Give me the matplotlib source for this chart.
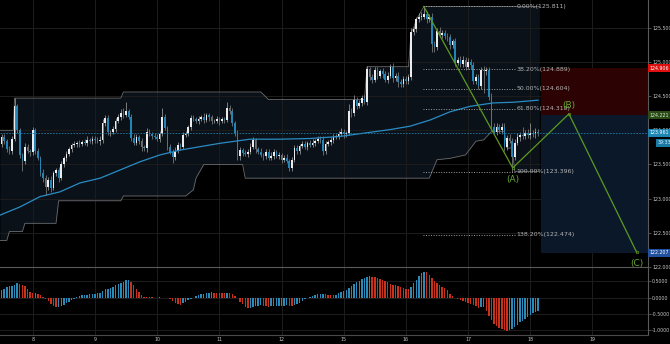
import matplotlib
matplotlib.use("Agg")
import matplotlib.pyplot as plt
import matplotlib.transforms as mtrans
from matplotlib.patches import Rectangle
import numpy as np

# ---------------- data ----------------
hours = list(range(-12, 196))          # hourly candles, 0 = day 8 00:00 (trading time)
first_open = 123.80
closes = [
    123.90, 123.85, 123.72, 123.70, 123.88, 124.35, 124.00, 123.64, 123.55, 123.76, 123.70, 123.68,
    124.00, 123.70, 123.60, 123.38, 123.30, 123.17, 123.28, 123.15, 123.37, 123.42, 123.30, 123.50,
    123.60, 123.66, 123.72, 123.78, 123.80, 123.82, 123.80, 123.83, 123.82, 123.86, 123.84, 123.88,
    123.86, 123.84, 123.86, 124.10, 124.18, 123.97, 123.98, 124.02, 124.13, 124.20, 124.25, 124.22,
    124.28, 124.20, 123.89, 123.82, 123.90, 123.85, 123.76, 123.74, 123.98, 123.95, 123.92, 123.90,
    123.88, 123.95, 124.20, 124.04, 123.76, 123.69, 123.61, 123.70, 123.79, 123.76, 123.93, 123.95,
    124.05, 124.18, 124.16, 124.14, 124.17, 124.20, 124.15, 124.22, 124.19, 124.13, 124.14, 124.16,
    124.13, 124.16, 124.15, 124.32, 124.28, 124.11, 123.96, 123.62, 123.71, 123.67, 123.66, 123.69,
    123.76, 123.86, 123.72, 123.69, 123.64, 123.62, 123.69, 123.60, 123.63, 123.68, 123.62, 123.64,
    123.57, 123.60, 123.55, 123.45, 123.57, 123.74, 123.70, 123.77, 123.80, 123.76, 123.82, 123.79,
    123.82, 123.85, 123.88, 123.86, 123.70, 123.80, 123.83, 123.86, 123.90, 123.92, 123.95, 123.98,
    123.94, 123.96, 124.28, 124.25, 124.45, 124.36, 124.40, 124.47, 124.42, 124.89, 124.78, 124.74,
    124.88, 124.80, 124.86, 124.82, 124.74, 124.80, 124.93, 124.76, 124.80, 124.71, 124.68, 124.75,
    124.72, 124.78, 125.43, 125.48, 125.62, 125.66, 125.66, 125.70, 125.62, 125.66, 125.26, 125.22,
    125.45, 125.40, 125.42, 125.38, 125.36, 125.25, 125.30, 124.99, 125.03, 124.97, 125.03, 124.93,
    125.00, 124.95, 124.72, 124.78, 124.65, 124.88, 124.86, 124.88, 124.49, 124.05, 123.98, 124.05,
    124.00, 124.05, 123.76, 123.89, 123.85, 123.61, 123.82, 123.90, 123.93, 123.92, 123.96, 123.93,
    123.96, 123.94, 123.98, 123.961,
]
upper_wick = [
    0.05, 0.04, 0.03, 0.05, 0.04, 0.12, 0.03, 0.04, 0.03, 0.05, 0.04, 0.03,
    0.05, 0.03, 0.04, 0.03, 0.05, 0.04, 0.03, 0.05, 0.04, 0.03, 0.04, 0.05, 0.03, 0.04, 0.03, 0.04, 0.05, 0.03, 0.04, 0.03, 0.04, 0.05, 0.03, 0.04,
    0.03, 0.04, 0.05, 0.06, 0.05, 0.04, 0.03, 0.04, 0.05, 0.04, 0.06, 0.08, 0.14, 0.03, 0.04, 0.05, 0.04, 0.03, 0.04, 0.03, 0.05, 0.04, 0.03, 0.04,
    0.05, 0.04, 0.13, 0.04, 0.03, 0.04, 0.03, 0.05, 0.04, 0.03, 0.05, 0.04, 0.03, 0.04, 0.05, 0.03, 0.04, 0.03, 0.05, 0.04, 0.03, 0.04, 0.03, 0.05,
    0.04, 0.03, 0.04, 0.10, 0.05, 0.04, 0.03, 0.04, 0.05, 0.03, 0.04, 0.03, 0.05, 0.04, 0.03, 0.04, 0.05, 0.03, 0.04, 0.03, 0.05, 0.04, 0.03, 0.04,
    0.03, 0.04, 0.05, 0.03, 0.04, 0.05, 0.04, 0.03, 0.05, 0.04, 0.03, 0.04, 0.05, 0.03, 0.04, 0.03, 0.05, 0.04, 0.03, 0.04, 0.05, 0.03, 0.04, 0.05,
    0.04, 0.03, 0.10, 0.05, 0.06, 0.04, 0.05, 0.04, 0.05, 0.05, 0.04, 0.05, 0.04, 0.05, 0.04, 0.05, 0.04, 0.05, 0.04, 0.05, 0.04, 0.05, 0.04, 0.05,
    0.04, 0.05, 0.06, 0.05, 0.04, 0.05, 0.07, 0.111, 0.05, 0.04, 0.05, 0.04, 0.05, 0.06, 0.04, 0.05, 0.04, 0.05, 0.04, 0.05, 0.04, 0.05, 0.06, 0.04,
    0.05, 0.04, 0.05, 0.04, 0.05, 0.04, 0.06, 0.05, 0.04, 0.05, 0.06, 0.05, 0.04, 0.06, 0.05, 0.04, 0.05, 0.04, 0.05, 0.06, 0.05, 0.12, 0.05, 0.06,
    0.14, 0.05, 0.06, 0.04,
]
lower_wick = [
    0.04, 0.05, 0.03, 0.04, 0.05, 0.03, 0.04, 0.05, 0.15, 0.04, 0.03, 0.05,
    0.04, 0.05, 0.03, 0.05, 0.06, 0.11, 0.04, 0.05, 0.03, 0.04, 0.05, 0.03, 0.04, 0.05, 0.03, 0.04, 0.03, 0.05, 0.04, 0.03, 0.04, 0.05, 0.03, 0.04,
    0.04, 0.03, 0.05, 0.04, 0.03, 0.04, 0.05, 0.03, 0.04, 0.03, 0.05, 0.04, 0.03, 0.04, 0.05, 0.04, 0.03, 0.05, 0.06, 0.04, 0.05, 0.03, 0.04, 0.03,
    0.04, 0.05, 0.03, 0.04, 0.05, 0.04, 0.09, 0.04, 0.03, 0.05, 0.04, 0.03, 0.04, 0.05, 0.03, 0.04, 0.05, 0.03, 0.04, 0.03, 0.05, 0.04, 0.03, 0.04,
    0.05, 0.03, 0.04, 0.03, 0.04, 0.05, 0.04, 0.06, 0.05, 0.04, 0.03, 0.05, 0.04, 0.03, 0.05, 0.04, 0.03, 0.05, 0.04, 0.03, 0.04, 0.05, 0.03, 0.04,
    0.05, 0.04, 0.03, 0.05, 0.04, 0.03, 0.05, 0.04, 0.03, 0.04, 0.05, 0.03, 0.04, 0.05, 0.03, 0.04, 0.06, 0.04, 0.03, 0.05, 0.04, 0.03, 0.04, 0.03,
    0.05, 0.04, 0.03, 0.05, 0.04, 0.05, 0.04, 0.05, 0.04, 0.05, 0.04, 0.05, 0.04, 0.05, 0.04, 0.05, 0.04, 0.05, 0.04, 0.05, 0.04, 0.07, 0.05, 0.04,
    0.05, 0.04, 0.05, 0.04, 0.05, 0.04, 0.05, 0.04, 0.05, 0.04, 0.11, 0.07, 0.05, 0.04, 0.05, 0.04, 0.05, 0.06, 0.04, 0.05, 0.04, 0.05, 0.04, 0.05,
    0.04, 0.05, 0.04, 0.05, 0.05, 0.04, 0.31, 0.05, 0.04, 0.05, 0.04, 0.05, 0.04, 0.05, 0.06, 0.05, 0.04, 0.214, 0.05, 0.04, 0.05, 0.04, 0.05, 0.04,
    0.05, 0.04, 0.05, 0.04,
]
macd_hist = [
    0.22, 0.28, 0.33, 0.35, 0.36, 0.40, 0.44, 0.42, 0.39, 0.36, 0.28, 0.18,
    0.13, 0.15, 0.12, 0.08, 0.02, -0.04, -0.10, -0.18, -0.25, -0.30, -0.28, -0.25, -0.21, -0.17, -0.12, -0.07, -0.03, 0.02, 0.05, 0.07, 0.08, 0.09, 0.10, 0.11,
    0.12, 0.13, 0.15, 0.20, 0.25, 0.28, 0.31, 0.34, 0.38, 0.42, 0.46, 0.49, 0.53, 0.54, 0.47, 0.38, 0.28, 0.18, 0.08, 0.03, 0.01, 0.012, 0.006, 0.004,
    0.0, 0.005, -0.005, 0.0, -0.01, -0.05, -0.10, -0.15, -0.19, -0.21, -0.17, -0.12, -0.07, -0.03, 0.0, 0.05, 0.08, 0.10, 0.12, 0.14, 0.15, 0.16, 0.155, 0.15,
    0.145, 0.14, 0.13, 0.15, 0.14, 0.12, 0.06, -0.02, -0.12, -0.20, -0.28, -0.33, -0.32, -0.30, -0.27, -0.25, -0.24, -0.26, -0.27, -0.28, -0.27, -0.265, -0.26, -0.255,
    -0.25, -0.245, -0.24, -0.25, -0.26, -0.24, -0.20, -0.15, -0.10, -0.05, 0.0, 0.03, 0.06, 0.09, 0.11, 0.12, 0.125, 0.10, 0.09, 0.085, 0.08, 0.09, 0.13, 0.16,
    0.19, 0.23, 0.30, 0.37, 0.43, 0.49, 0.52, 0.56, 0.60, 0.63, 0.65, 0.64, 0.63, 0.61, 0.58, 0.55, 0.51, 0.47, 0.43, 0.40, 0.38, 0.35, 0.32, 0.30,
    0.28, 0.27, 0.34, 0.44, 0.55, 0.66, 0.76, 0.80, 0.78, 0.70, 0.60, 0.50, 0.44, 0.38, 0.34, 0.29, 0.22, 0.12, 0.06, 0.0, -0.03, -0.06, -0.09, -0.12,
    -0.15, -0.19, -0.23, -0.27, -0.33, -0.30, -0.29, -0.40, -0.55, -0.68, -0.80, -0.88, -0.93, -0.96, -0.99, -1.01, -0.99, -0.97, -0.90, -0.83, -0.76, -0.70, -0.64, -0.58,
    -0.52, -0.47, -0.44, -0.40,
]
ma_t = [-12.6, -4.9, 2.8, 10.5, 18.2, 26, 33.7, 41.4, 49.1, 56.8, 64.5, 72.3, 83.8, 95.4, 107,
        118.5, 130.1, 137.8, 145.6, 153.3, 161, 168.7, 177.6, 185.3, 195]
ma_v = [122.76, 122.88, 123.03, 123.10, 123.23, 123.30, 123.42, 123.54, 123.64, 123.71, 123.76,
        123.81, 123.87, 123.87, 123.88, 123.91, 123.97, 124.01, 124.06, 124.15, 124.27, 124.35,
        124.40, 124.41, 124.44]
band_t = [-12.62, -10, -9, -7.5, -7, -4, -3, 9, 10, 34, 35, 59, 60, 62, 63, 66, 81, 82, 88, 91,
          128, 129, 145, 146, 147, 148, 149, 150, 151, 153, 156, 161, 167, 169, 171, 174, 177,
          182, 183, 185, 186, 195.5]
band_hi = [124.00, 124.00, 124.00, 124.00, 124.47, 124.47, 124.47, 124.47, 124.47, 124.47,
           124.56, 124.56, 124.56, 124.56, 124.56, 124.56, 124.56, 124.56, 124.56, 124.45,
           124.45, 124.93, 124.93, 125.43, 125.50, 125.62, 125.68, 125.75, 125.811, 125.811,
           125.811, 125.811, 125.811, 125.811, 125.811, 125.811, 125.811, 125.811, 125.811,
           125.811, 125.811, 125.811]
band_lo = [122.39, 122.39, 122.52, 122.52, 122.52, 122.52, 122.64, 122.64, 122.97, 122.97,
           123.04, 123.04, 123.07, 123.13, 123.30, 123.50, 123.50, 123.30, 123.30, 123.30,
           123.30, 123.30, 123.30, 123.30, 123.30, 123.30, 123.30, 123.30, 123.30, 123.30,
           123.57, 123.59, 123.64, 123.74, 123.84, 123.86, 123.98, 123.98, 123.74, 123.74,
           123.396, 123.396]
day_ticks = [0, 24, 48, 72, 96, 120, 144, 168, 192, 216]
day_labels = ['8', '9', '10', '11', '12', '15', '16', '17', '18', '19']
price_ticks = [122.0, 122.5, 123.0, 123.5, 124.0, 124.5, 125.0, 125.5]
macd_ticks = [0.5, 0.0, -0.5, -1.0]
fib_pct = ['0.00%', '38.20%', '50.00%', '61.80%', '100.00%', '138.20%']
fib_val = [125.811, 124.889, 124.604, 124.318, 123.396, 122.474]
fib_t = [150.6, 186.0]
wave_t = [150.9, 185.2, 206.9, 233.0]
wave_v = [125.811, 123.45, 124.24, 122.22]
wave_labels = ['', '(A)', '(B)', '(C)']
pos_start = 196.0
pos_stop, pos_entry, pos_target = 124.906, 124.221, 122.207
last_price = 123.961
countdown = '39:33'

# ---------------- figure ----------------
W, H = 670, 344
XMIN, XMAX = -12.62, 237.3
fig = plt.figure(figsize=(W / 100, H / 100), dpi=100, facecolor='black')
ax = fig.add_axes([0, 1 - 267.3 / H, 647.7 / W, 267.3 / H])
ax2 = fig.add_axes([0, 1 - 335 / H, 647.7 / W, (335 - 267.3) / H])
for a in (ax, ax2):
    a.set_facecolor('black')
    a.set_xlim(XMIN, XMAX)
    for s in ('left', 'top', 'bottom'):
        a.spines[s].set_visible(False)
    a.spines['right'].set_color('#5a5a5a')
    a.spines['right'].set_linewidth(0.8)
    a.yaxis.tick_right()
    a.tick_params(axis='y', labelsize=3.4, colors='#c4c4c4', length=2, width=0.5, pad=1.2)
    a.tick_params(axis='y', color='#6a6a6a')
ax.set_ylim(121.997, 125.905)
ax2.set_ylim(-1.144, 0.93)
ax2.spines['top'].set_visible(True)
ax2.spines['top'].set_color('#5a5a5a')
ax2.spines['bottom'].set_visible(True)
ax2.spines['bottom'].set_color('#4a4a4a')

GRID = '#1d1d1d'
for t in day_ticks:
    ax.axvline(t, color=GRID, lw=0.7, zorder=1)
    ax2.axvline(t, color=GRID, lw=0.7, zorder=1)
for p in price_ticks:
    ax.axhline(p, color=GRID, lw=0.7, zorder=1)
for v in macd_ticks:
    ax2.axhline(v, color=GRID, lw=0.7, zorder=1)

ax.set_xticks(day_ticks)
ax.tick_params(axis='x', bottom=False, labelbottom=False)
ax.set_yticks(price_ticks)
ax.set_yticklabels([f'{p:.3f}' for p in price_ticks])
ax2.set_yticks(macd_ticks)
ax2.set_yticklabels([f'{v:.4f}' for v in macd_ticks])
ax2.set_xticks(day_ticks)
ax2.set_xticklabels(day_labels)
ax2.tick_params(axis='x', labelsize=3.4, colors='#c4c4c4', length=0, pad=1.5)

# channel
ax.fill_between(band_t, band_lo, band_hi, color='#0a1119', lw=0, zorder=0.5)
ax.plot(band_t, band_hi, color='#6a6a6a', lw=0.6, zorder=2)
ax.plot(band_t, band_lo, color='#6a6a6a', lw=0.6, zorder=2)

# candles
h = np.array(hours, dtype=float)
c = np.array(closes)
o = np.array([first_open] + closes[:-1])
up = c >= o
hi = np.maximum(o, c) + np.array(upper_wick)
lo = np.minimum(o, c) - np.array(lower_wick)
UPC, DNC = '#ececec', '#2385b5'
ax.vlines(h, lo, hi, colors=np.where(up, '#a8a8a8', '#8a8a8a'), lw=0.5, zorder=3)
ax.bar(h, np.maximum(np.abs(c - o), 0.006), bottom=np.minimum(o, c), width=0.62,
       color=np.where(up, UPC, DNC), lw=0, zorder=3.5)

# moving average
ax.plot(ma_t, ma_v, color='#2a8cc4', lw=0.9, zorder=4)

# position tool
ax.add_patch(Rectangle((pos_start, pos_entry), XMAX - pos_start, pos_stop - pos_entry,
                       fc='#2c0202', ec='none', zorder=1.5))
ax.add_patch(Rectangle((pos_start, pos_target), XMAX - pos_start, pos_entry - pos_target,
                       fc='#0b1829', ec='none', zorder=1.5))

# fibonacci
for pct, v in zip(fib_pct, fib_val):
    ax.hlines(v, fib_t[0], fib_t[1], colors='#a0a0a0', lw=0.7, linestyles=(0, (1, 1.6)), zorder=5)
    ax.text(fib_t[1] + 0.8, v, f'{pct}({v:.3f})', color='#b4b4b4', fontsize=4.5,
            va='center', ha='left', zorder=6)

# elliott ABC
GREEN = '#5b9a1f'
ax.plot(wave_t, wave_v, color=GREEN, lw=0.9, zorder=7)
ax.plot(wave_t[1:], wave_v[1:], 'o', ms=1.8, mfc='none', mec=GREEN, mew=0.5, zorder=7)
offs = [0, -8.5, 6, -8.5]
for t, v, lab, dy in zip(wave_t, wave_v, wave_labels, offs):
    if lab:
        ax.annotate(lab, (t, v), xytext=(0, dy), textcoords='offset points', color='#64a832',
                    fontsize=6.5, ha='center', va='center', zorder=8, annotation_clip=False)

# last price line
ax.axhline(last_price, color='#1f7aa5', lw=0.6, ls=(0, (2, 1.5)), zorder=7)

# price boxes on the axis
tr = mtrans.blended_transform_factory(ax.transAxes, ax.transData)
boxes = [(pos_stop, '#e01010', 'white'), (pos_entry, '#2a4a17', '#d8e8c8'),
         (last_price, '#1e86b2', 'white'), (pos_target, '#2050a0', 'white')]
for v, bg, fg in boxes:
    ax.text(1.003, v, f'{v:.3f}', transform=tr, fontsize=3.4, color=fg, ha='left', va='center',
            clip_on=False, zorder=10,
            bbox=dict(boxstyle='square,pad=0.35', fc=bg, ec='none'))
ax.annotate(countdown, (1.0, last_price), xycoords=tr, xytext=(7, -7.2), textcoords='offset points',
            fontsize=3.4, color='#d8f0ff', ha='left', va='center', annotation_clip=False, zorder=10,
            bbox=dict(boxstyle='square,pad=0.3', fc='#1a7aa3', ec='none'))

# MACD histogram
m = np.array(macd_hist)
rising = np.concatenate([[True], m[1:] > m[:-1]])
ax2.bar(h, m, width=0.55, color=np.where(rising, '#2a8ab8', '#c8321c'), lw=0, zorder=3)

fig.savefig('out.png', dpi=100, facecolor='black')
